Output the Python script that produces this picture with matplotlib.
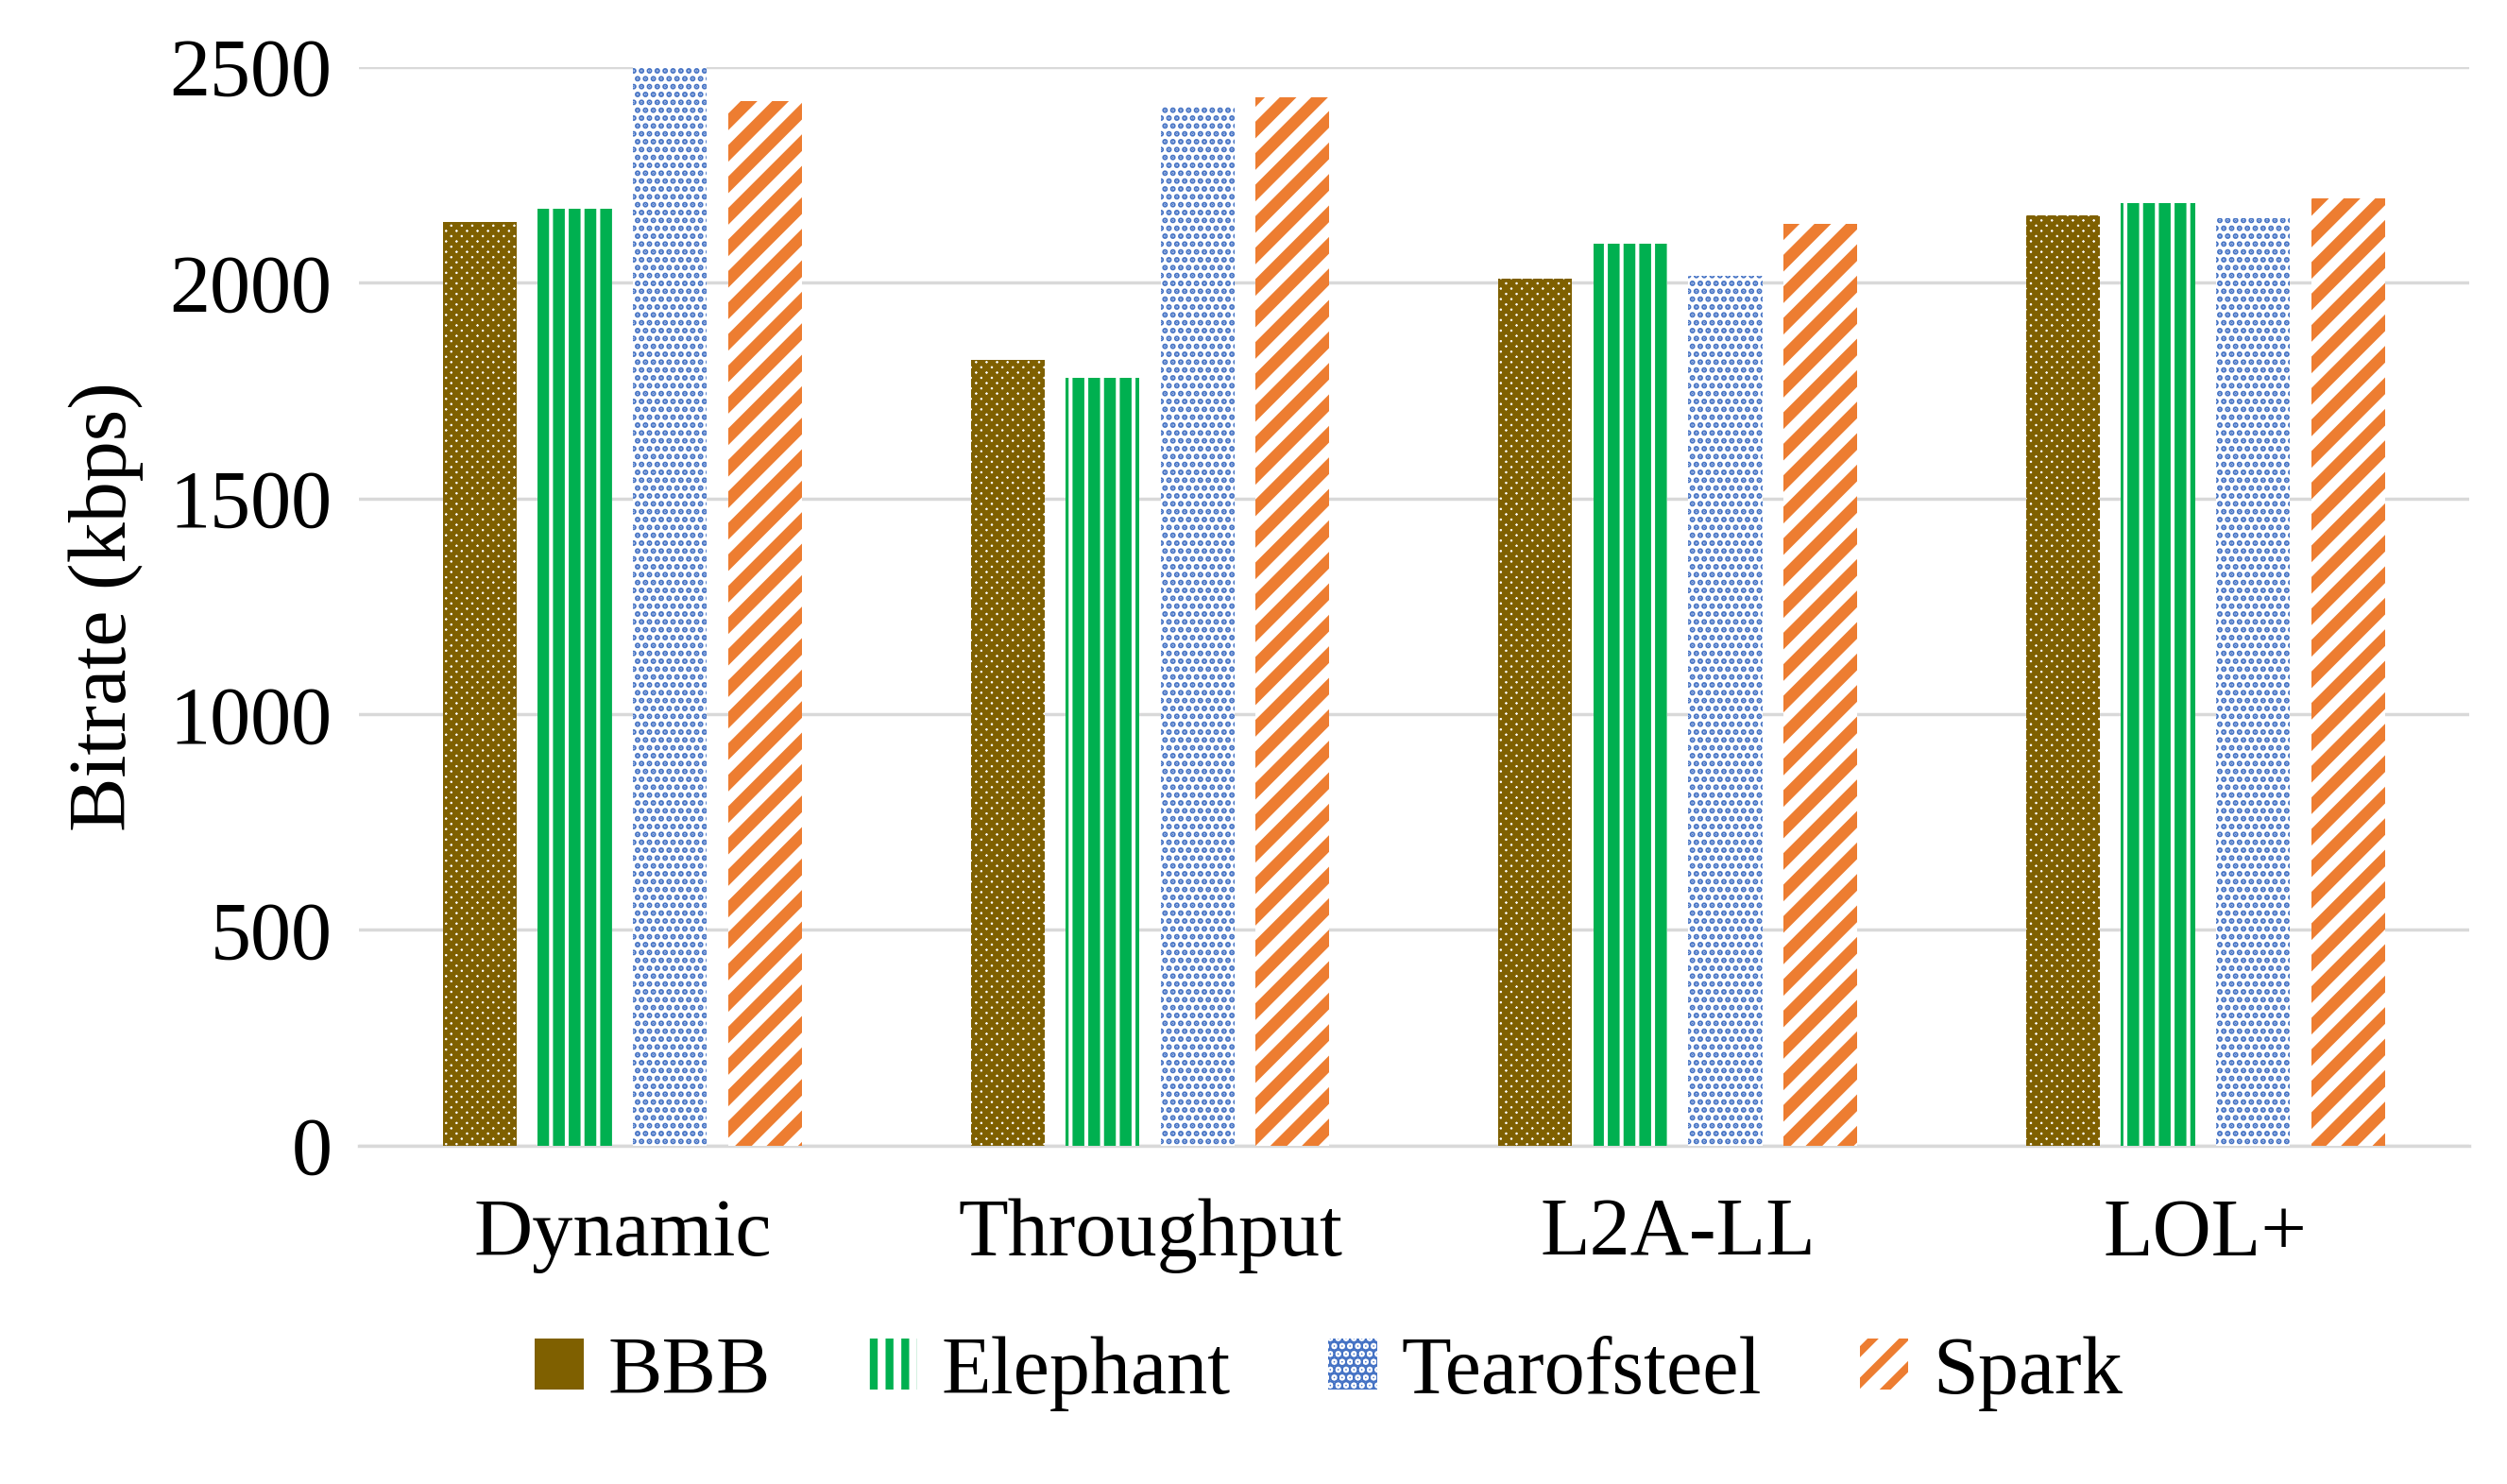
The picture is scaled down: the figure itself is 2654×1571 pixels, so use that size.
import numpy as np
import matplotlib.pyplot as plt

plt.rcParams['font.family'] = 'Liberation Serif'
plt.rcParams['hatch.linewidth'] = 6.0

categories = ['Dynamic', 'Throughput', 'L2A-LL', 'LOL+']
series = ['BBB', 'Elephant', 'Tearofsteel', 'Spark']
bbb = [2140, 1820, 2010, 2155]
elephant = [2170, 1780, 2090, 2185]
tears = [2510, 2410, 2015, 2150]
spark = [2420, 2430, 2135, 2195]

colors = ['#7f6000', '#00b050', '#4472c4', '#ed7d31']
hatches = ['xxx', '|', '..', '/']
hatch_lw = [4.0, 9.0, 3.0, 9.0]

fig = plt.figure(figsize=(26.54, 15.71), dpi=100)
ax = fig.add_axes([0.143, 0.228, 0.842, 0.727])

x = np.arange(len(categories))
width = 0.14
step = 0.18
for i, (name, vals) in enumerate(zip(series, [bbb, elephant, tears, spark])):
    pos = x + (i - 1.5) * step
    bars = ax.bar(pos, vals, width, facecolor='white', edgecolor=colors[i],
                  hatch=hatches[i], linewidth=0, label=name, zorder=3)
    for b in bars:
        b._hatch_linewidth = hatch_lw[i]

ax.set_ylim(0, 2500)
ax.set_xlim(-0.5, 3.5)
ax.set_yticks([0, 500, 1000, 1500, 2000, 2500])
ax.yaxis.grid(True, color='#d9d9d9', linewidth=2.5, zorder=0)
ax.set_axisbelow(True)
for s in ['top', 'right', 'left']:
    ax.spines[s].set_visible(False)
ax.spines['bottom'].set_color('#d9d9d9')
ax.spines['bottom'].set_linewidth(2.5)
ax.tick_params(axis='both', length=0, labelsize=62, pad=20)
ax.tick_params(axis='x', pad=40)
ax.set_xticks(x)
ax.set_xticklabels(categories)
ax.set_ylabel('Bitrate (kbps)', fontsize=62, labelpad=20)

fig.legend(loc='lower center', bbox_to_anchor=(0.53, 0.0), ncol=4, frameon=False,
           fontsize=62, handlelength=0.6, handleheight=0.6, columnspacing=1.2,
           handletextpad=0.3)

fig.savefig('out.png', dpi=100)
